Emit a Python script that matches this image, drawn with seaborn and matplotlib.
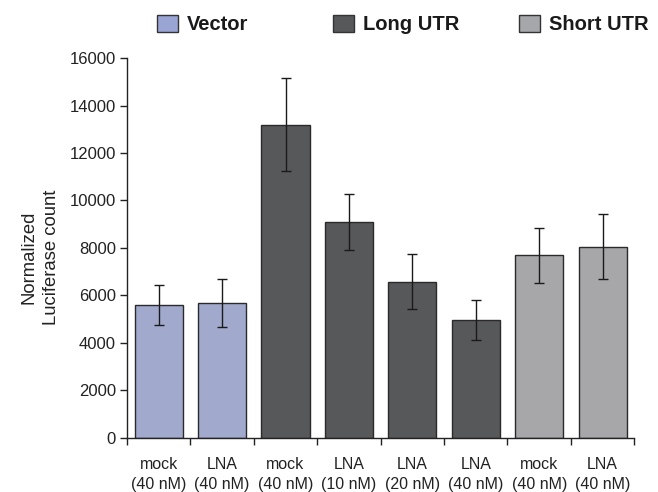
import numpy as np
import pandas as pd
import matplotlib
matplotlib.use('Agg')
import matplotlib.pyplot as plt
import seaborn as sns
from matplotlib.patches import Patch

# values
labels = ['mock\n(40 nM)', 'LNA\n(40 nM)', 'mock\n(40 nM)', 'LNA\n(10 nM)',
          'LNA\n(20 nM)', 'LNA\n(40 nM)', 'mock\n(40 nM)', 'LNA\n(40 nM)']
groups = ['Vector', 'Vector', 'Long UTR', 'Long UTR', 'Long UTR', 'Long UTR',
          'Short UTR', 'Short UTR']
counts = [5600, 5700, 13200, 9100, 6580, 4970, 7690, 8040]
err_lo = [4750, 4650, 11240, 7900, 5430, 4110, 6530, 6690]
err_hi = [6450, 6700, 15170, 10290, 7750, 5820, 8860, 9420]

colors = {'Vector': '#9aa5d4', 'Long UTR': '#57585a', 'Short UTR': '#a6a7aa'}

sns.set_style('white')
plt.rcParams['font.family'] = ['Liberation Sans', 'DejaVu Sans']

df = pd.DataFrame({'pos': [str(i) for i in range(len(counts))],
                   'count': counts, 'group': groups})

fig = plt.figure(figsize=(6.58, 4.92), dpi=100)
ax = fig.add_axes([0.193, 0.11, 0.771, 0.772])

sns.barplot(data=df, x='pos', y='count', hue='group', palette=colors,
            dodge=False, width=0.76, edgecolor='#2a2a2a', linewidth=1.0,
            errorbar=None, legend=False, ax=ax)

x = np.arange(len(counts))
c = np.array(counts)
yerr = [c - np.array(err_lo), np.array(err_hi) - c]
ax.errorbar(x, c, yerr=yerr, fmt='none', ecolor='#1a1a1a', elinewidth=1.0,
            capsize=3.5, capthick=1.0)

ax.set_xlim(-0.5, len(counts) - 0.5)
ax.set_ylim(0, 16000)
ax.set_yticks(range(0, 16001, 2000))
ax.tick_params(axis='y', labelsize=12, length=5, width=1, direction='out',
               left=True, pad=3, colors='#222222')
ax.set_xticks(x)
ax.set_xticklabels(labels, fontsize=11.5, linespacing=1.45)
ax.tick_params(axis='x', which='major', length=0, pad=13.5, colors='#222222')
ax.set_xticks(np.arange(-0.5, len(counts)), minor=True)
ax.tick_params(axis='x', which='minor', length=5, width=1, direction='out',
               bottom=True, color='#222222')
ax.set_xlabel('')
ax.set_ylabel('Normalized\nLuciferase count', fontsize=13.3, color='#222222',
              linespacing=1.4)
ax.yaxis.set_label_coords(-0.132, 0.476)

for s in ['top', 'right']:
    ax.spines[s].set_visible(False)
for s in ['left', 'bottom']:
    ax.spines[s].set_color('#222222')
    ax.spines[s].set_linewidth(1)

# three legend entries placed individually (uneven gaps in the original)
legend_x = {'Vector': 157, 'Long UTR': 333, 'Short UTR': 519}
for g in ['Vector', 'Long UTR', 'Short UTR']:
    h = Patch(facecolor=colors[g], edgecolor='#333333', label=g)
    fig.legend(handles=[h], loc='center left',
               bbox_to_anchor=(legend_x[g] / 658, 1 - 24.5 / 492),
               frameon=False, prop={'weight': 'bold', 'size': 14.5},
               handlelength=1.05, handleheight=0.95, handletextpad=0.45,
               borderpad=0, borderaxespad=0, labelcolor='#1a1a1a')

fig.savefig('out.png', dpi=100)
